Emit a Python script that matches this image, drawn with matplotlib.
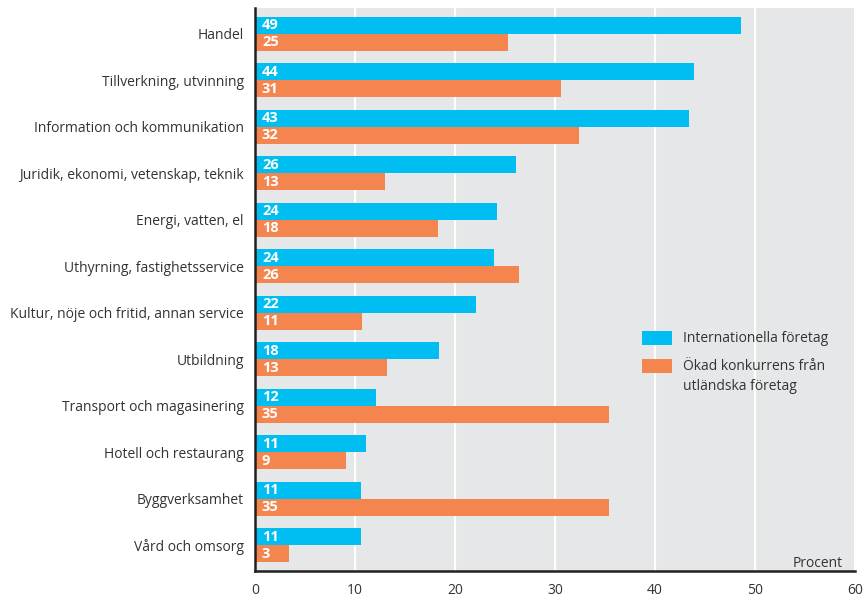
import matplotlib
matplotlib.use("Agg")
import matplotlib.pyplot as plt
from matplotlib.patches import Rectangle
import numpy as np

plt.rcParams['font.family'] = ['Open Sans', 'DejaVu Sans']

categories = [
    "Handel",
    "Tillverkning, utvinning",
    "Information och kommunikation",
    "Juridik, ekonomi, vetenskap, teknik",
    "Energi, vatten, el",
    "Uthyrning, fastighetsservice",
    "Kultur, nöje och fritid, annan service",
    "Utbildning",
    "Transport och magasinering",
    "Hotell och restaurang",
    "Byggverksamhet",
    "Vård och omsorg",
]
internationella = [48.6, 43.9, 43.4, 26.1, 24.2, 23.9, 22.1, 18.4, 12.1, 11.1, 10.6, 10.6]
konkurrens = [25.3, 30.6, 32.4, 13.0, 18.3, 26.4, 10.7, 13.2, 35.4, 9.1, 35.4, 3.4]
series_names = ["Internationella företag", "Ökad konkurrens från\nutländska företag"]
x_ticks = [0, 10, 20, 30, 40, 50, 60]

blue = "#00BEF2"
orange = "#F5854F"
bg = "#E6E7E8"
text_col = "#333333"

fig = plt.figure(figsize=(8.65, 5.99), dpi=100)
ax = fig.add_axes([255 / 865, 28 / 599, 600 / 865, 563 / 599])
ax.set_facecolor(bg)

y = np.arange(len(categories))
h = 0.366
ax.barh(y - h / 2, internationella, height=h, color=blue, zorder=3)
ax.barh(y + h / 2, konkurrens, height=h, color=orange, zorder=3)

for yi, v in zip(y, internationella):
    ax.text(0.7, yi - h / 2, f"{round(v)}", color="white", fontweight="bold",
            fontsize=10.5, va="center", ha="left", zorder=4)
for yi, v in zip(y, konkurrens):
    ax.text(0.7, yi + h / 2, f"{round(v)}", color="white", fontweight="bold",
            fontsize=10.5, va="center", ha="left", zorder=4)

ax.set_xlim(0, 60)
ax.set_ylim(len(categories) - 0.45, -0.55)
ax.set_yticks(y)
ax.set_yticklabels(categories, fontsize=10, color=text_col)
ax.set_xticks(x_ticks)
ax.set_xticklabels([str(t) for t in x_ticks], fontsize=10, color=text_col)
ax.tick_params(axis="both", length=0)
ax.tick_params(axis="x", pad=8.5)
ax.tick_params(axis="y", pad=8)

ax.grid(axis="x", color="white", linewidth=1.5, zorder=1)
ax.set_axisbelow(True)

for s in ["top", "right"]:
    ax.spines[s].set_visible(False)
for s in ["left", "bottom"]:
    ax.spines[s].set_color("#231F20")
    ax.spines[s].set_linewidth(1.8)
    ax.spines[s].set_zorder(5)

ax.text(0.98, 0.007, "Procent", transform=ax.transAxes, ha="right", va="baseline",
        fontsize=10, color=text_col)

# Legend: colour swatches with their labels, placed in axes coordinates
legend_items = [
    (blue, series_names[0], 0.401),
    (orange, series_names[1], 0.352),
]
for col, label, y0 in legend_items:
    ax.add_patch(Rectangle((0.645, y0), 0.05, 0.025, transform=ax.transAxes,
                           facecolor=col, edgecolor="none", zorder=6))
    ax.text(0.713, y0 + 0.0245, label, transform=ax.transAxes, ha="left", va="top",
            fontsize=10, color=text_col, linespacing=1.45, zorder=6)

fig.savefig("out.png", dpi=100)
